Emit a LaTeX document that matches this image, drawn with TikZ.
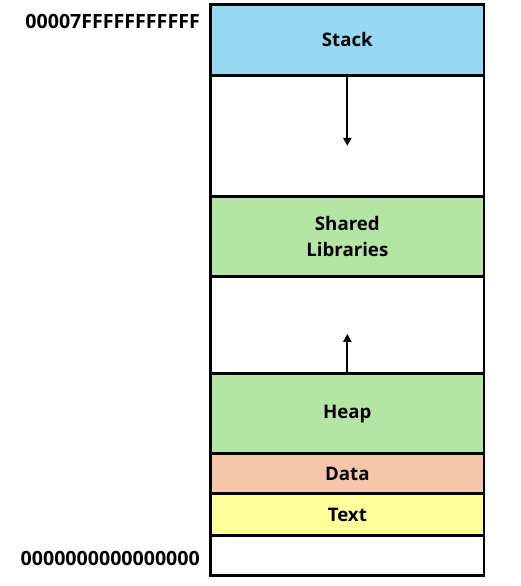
\documentclass[tikz,border=0pt]{standalone}
\usepackage{fontspec}
\setmainfont{Open Sans}
\usetikzlibrary{positioning,arrows.meta}
\definecolor{stackblue}{RGB}{151,217,245}
\definecolor{libgreen}{RGB}{181,229,165}
\definecolor{datapeach}{RGB}{245,198,170}
\definecolor{textyellow}{RGB}{255,255,153}
\tikzset{
  seg/.style={
    rectangle, draw=black, line width=2.2pt,
    minimum width=205pt, inner sep=0pt, outer sep=0pt,
    align=center, font=\fontsize{14}{19.5}\selectfont\bfseries
  },
  addr/.style={
    anchor=east, inner sep=0pt,
    font=\fontsize{14.7}{17}\selectfont\bfseries
  },
  growarrow/.style={-{Triangle[length=6pt,width=6pt]}, line width=1.5pt},
}

\begin{document}
\begin{tikzpicture}
\useasboundingbox (0,0) rectangle (390.75pt,439.5pt);

%% ── Memory segments, top to bottom ──────────────────────────────────────
\node[seg, fill=stackblue, minimum height=53pt, anchor=north west]
  (stack) at (158pt,436.1pt) {Stack};
\node[seg, fill=white, minimum height=91pt, below=0pt of stack] (gaptop) {};
\node[seg, fill=libgreen, minimum height=60pt, below=0pt of gaptop]
  (shared) {Shared\\Libraries};
\node[seg, fill=white, minimum height=73pt, below=0pt of shared] (gapmid) {};
\node[seg, fill=libgreen, minimum height=60pt, below=0pt of gapmid] (heap) {Heap};
\node[seg, fill=datapeach, minimum height=30pt, below=0pt of heap] (data) {Data};
\node[seg, fill=textyellow, minimum height=31.5pt, below=0pt of data] (text) {Text};
\node[seg, fill=white, minimum height=30pt, below=0pt of text] (reserved) {};

%% ── Growth arrows ────────────────────────────────────────────────────────
\coordinate (stackend) at ([yshift=-53pt]stack.south);
\coordinate (heapend) at ([yshift=30pt]heap.north);
\draw[growarrow] (stack.south) -- (stackend);
\draw[growarrow] (heap.north) -- (heapend);

%% ── Address labels ───────────────────────────────────────────────────────
\node[addr] (hiaddr) at (150pt,423.5pt) {00007FFFFFFFFFFF};
\node[addr] (loaddr) at (150pt,20.5pt) {0000000000000000};

\end{tikzpicture}
\end{document}
